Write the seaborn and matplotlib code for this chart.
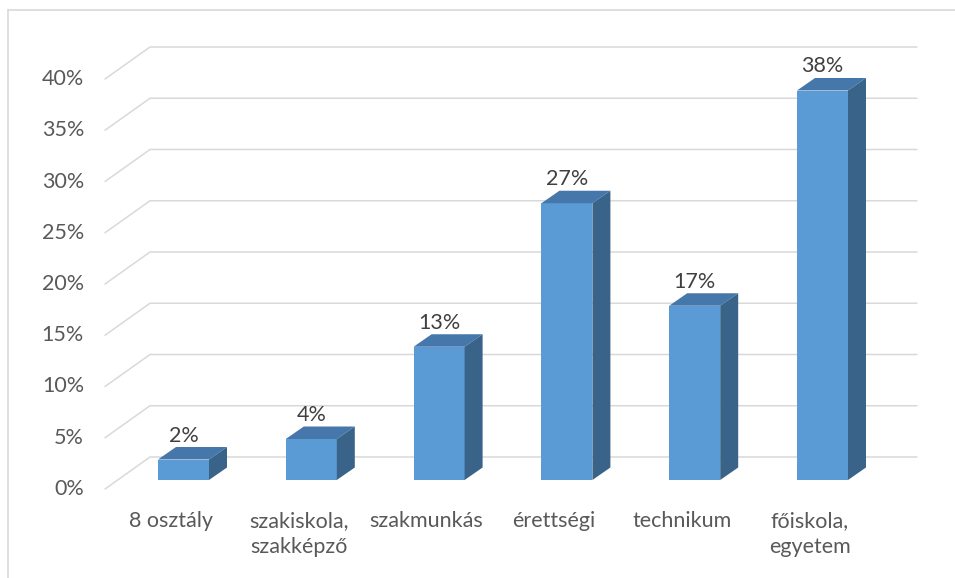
import numpy as np
import pandas as pd
import seaborn as sns
import matplotlib
matplotlib.use("Agg")
import matplotlib.pyplot as plt
from matplotlib.transforms import ScaledTranslation
from matplotlib.patches import Polygon
from matplotlib.lines import Line2D

categories = ["8 osztály", "szakiskola,\nszakképző", "szakmunkás", "érettségi", "technikum", "főiskola,\negyetem"]
values = [2, 4, 13, 27, 17, 38]
yticks = [0, 5, 10, 15, 20, 25, 30, 35, 40]
ytick_labels = ["0%", "5%", "10%", "15%", "20%", "25%", "30%", "35%", "40%"]

FRONT = "#5B9BD5"
TOP = "#4677AA"
SIDE = "#3A6389"
GRID = "#D9D9D9"
TXT = "#595959"
LBL = "#404040"

sns.set_theme(style="white")
plt.rcParams["font.family"] = ["Lato", "DejaVu Sans"]

W, H = 955, 578
fig = plt.figure(figsize=(W / 100, H / 100), dpi=100)
ax = fig.add_axes([119.6 / W, 98 / H, 766.8 / W, 410 / H])

df = pd.DataFrame({"cat": categories, "val": values})
sns.barplot(data=df, x="cat", y="val", color=FRONT, saturation=1, width=51 / 127.8,
            ax=ax, zorder=3, linewidth=0)
ax.set_xlim(-0.5, 5.5)
ax.set_ylim(0, 40)
ax.axis("off")

px_x = ax.transData.transform((1, 0))[0] - ax.transData.transform((0, 0))[0]
px_y = ax.transData.transform((0, 1))[1] - ax.transData.transform((0, 0))[1]

def dxp(p):
    return p / px_x

def dyp(p):
    return p / px_y

# gridlines (side wall diagonal + back wall)
fx = dxp(105 - 119.6) - 0.5
bx = dxp(150 - 119.6) - 0.5
ex = dxp(917 - 119.6) - 0.5
fy = -dyp(9)
by = dyp(23)
for t, lab in zip(yticks, ytick_labels):
    ax.plot([fx, bx, ex], [t + fy, t + by, t + by], color=GRID, lw=1.1,
            clip_on=False, zorder=1, solid_joinstyle="miter")
    ax.text(dxp(84 - 119.6) - 0.5, t + fy, lab, ha="right", va="center",
            fontsize=15.5, color=TXT, clip_on=False)

# 3D faces
ddx = dxp(18)
ddy = dyp(12.5)
for p, v in zip(ax.patches, values):
    x0 = p.get_x()
    w = p.get_width()
    h = p.get_height()
    top = Polygon([(x0, h), (x0 + w, h), (x0 + w + ddx, h + ddy), (x0 + ddx, h + ddy)],
                  closed=True, facecolor=TOP, edgecolor="none", zorder=3, clip_on=False)
    side = Polygon([(x0 + w, 0), (x0 + w + ddx, ddy), (x0 + w + ddx, h + ddy), (x0 + w, h)],
                   closed=True, facecolor=SIDE, edgecolor="none", zorder=3, clip_on=False)
    ax.add_patch(top)
    ax.add_patch(side)
    ax.text(x0 + w / 2, h, f"{v}%", ha="center", va="baseline", fontsize=15.5, color=LBL,
            transform=ax.transData + ScaledTranslation(0, 18 / 100, fig.dpi_scale_trans),
            clip_on=False)

# category labels
for i, c in enumerate(categories):
    ax.text(i - dxp(12.7), -dyp(31), c, ha="center", va="top", fontsize=15.5, color=TXT,
            linespacing=1.4, clip_on=False)

# chart frame
fig.add_artist(Line2D([8 / W, 1], [1 - 10 / H, 1 - 10 / H], transform=fig.transFigure,
                      color=GRID, lw=1.2))
fig.add_artist(Line2D([8 / W, 8 / W], [0, 1 - 10 / H], transform=fig.transFigure,
                      color=GRID, lw=1.2))

fig.savefig("out.png", dpi=100)
